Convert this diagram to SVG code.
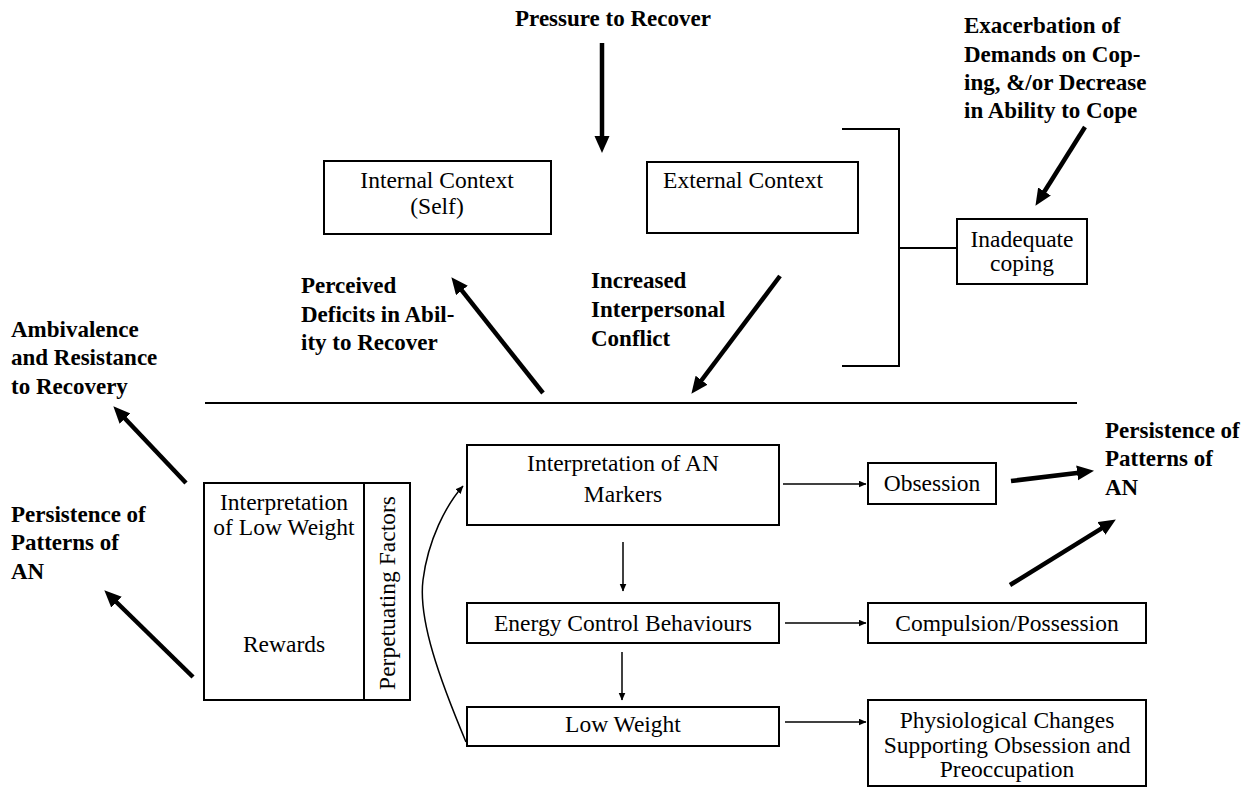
<svg xmlns="http://www.w3.org/2000/svg" width="1256" height="790" viewBox="0 0 1256 790">
  <style>
    .box { fill: #ffffff; stroke: #000000; stroke-width: 2; }
    .txt { font-family: "Liberation Serif", "Times New Roman", serif; font-size: 23.5px; fill: #000000; }
    .mid { text-anchor: middle; }
    .lbl { font-family: "Liberation Serif", "Times New Roman", serif; font-size: 23px; font-weight: bold; fill: #000000; }
    .thick { fill: none; stroke: #000000; stroke-width: 4.5; marker-end: url(#bigHead); }
    .thin { fill: none; stroke: #000000; stroke-width: 1.5; marker-end: url(#smallHead); }
    .rule { fill: none; stroke: #000000; stroke-width: 2; }
  </style>
  <defs>
    <marker id="bigHead" markerUnits="userSpaceOnUse" markerWidth="18" markerHeight="16" refX="6" refY="7.5" orient="auto">
      <path d="M0,0 L17,7.5 L0,15 z" fill="#000000"/>
    </marker>
    <marker id="smallHead" markerUnits="userSpaceOnUse" markerWidth="10" markerHeight="8" refX="7.5" refY="3.5" orient="auto">
      <path d="M0,0 L8,3.5 L0,7 z" fill="#000000"/>
    </marker>
  </defs>

  <rect width="1256" height="790" fill="#ffffff"/>

  <!-- influence labels -->
  <g id="labels">
    <text class="lbl mid" x="613" y="26">Pressure to Recover</text>
    <text class="lbl" x="964" y="33">Exacerbation of</text>
    <text class="lbl" x="964" y="62">Demands on Cop-</text>
    <text class="lbl" x="964" y="90">ing, &amp;/or Decrease</text>
    <text class="lbl" x="964" y="118">in Ability to Cope</text>
    <text class="lbl" x="301" y="293">Perceived</text>
    <text class="lbl" x="301" y="322">Deficits in Abil-</text>
    <text class="lbl" x="301" y="350">ity to Recover</text>
    <text class="lbl" x="591" y="288">Increased</text>
    <text class="lbl" x="591" y="317">Interpersonal</text>
    <text class="lbl" x="591" y="346">Conflict</text>
    <text class="lbl" x="11" y="337">Ambivalence</text>
    <text class="lbl" x="11" y="365">and Resistance</text>
    <text class="lbl" x="11" y="394">to Recovery</text>
    <text class="lbl" x="11" y="522">Persistence of</text>
    <text class="lbl" x="11" y="550">Patterns of</text>
    <text class="lbl" x="11" y="579">AN</text>
    <text class="lbl" x="1105" y="438">Persistence of</text>
    <text class="lbl" x="1105" y="466">Patterns of</text>
    <text class="lbl" x="1105" y="495">AN</text>
  </g>

  <!-- context nodes -->
  <g id="internal-context">
    <rect class="box" x="324" y="161" width="227" height="73"/>
    <text class="txt mid" x="437" y="188">Internal Context</text>
    <text class="txt mid" x="437" y="214">(Self)</text>
  </g>
  <g id="external-context">
    <rect class="box" x="647" y="162" width="211" height="71"/>
    <text class="txt mid" x="743" y="188">External Context</text>
  </g>
  <g id="inadequate-coping">
    <rect class="box" x="957" y="219" width="130" height="65"/>
    <text class="txt mid" x="1022" y="247">Inadequate</text>
    <text class="txt mid" x="1022" y="271">coping</text>
  </g>

  <!-- perpetuating factors -->
  <g id="perpetuating-factors">
    <rect class="box" x="204" y="483" width="206" height="217"/>
    <line class="rule" x1="364" y1="483" x2="364" y2="700"/>
    <text class="txt mid" x="284" y="510">Interpretation</text>
    <text class="txt mid" x="284" y="535">of Low Weight</text>
    <text class="txt mid" x="284" y="652">Rewards</text>
    <text class="txt mid" transform="translate(395,593) rotate(-90)">Perpetuating Factors</text>
  </g>

  <!-- central chain -->
  <g id="interpretation-markers">
    <rect class="box" x="467" y="445" width="312" height="80"/>
    <text class="txt mid" x="623" y="471">Interpretation of AN</text>
    <text class="txt mid" x="623" y="502">Markers</text>
  </g>
  <g id="energy-control">
    <rect class="box" x="467" y="603" width="312" height="40"/>
    <text class="txt mid" x="623" y="631">Energy Control Behaviours</text>
  </g>
  <g id="low-weight">
    <rect class="box" x="467" y="707" width="312" height="39"/>
    <text class="txt mid" x="623" y="732">Low Weight</text>
  </g>

  <!-- outcomes -->
  <g id="obsession">
    <rect class="box" x="868" y="463" width="128" height="41"/>
    <text class="txt mid" x="932" y="491">Obsession</text>
  </g>
  <g id="compulsion">
    <rect class="box" x="868" y="603" width="278" height="40"/>
    <text class="txt mid" x="1007" y="631">Compulsion/Possession</text>
  </g>
  <g id="physiological-changes">
    <rect class="box" x="868" y="700" width="278" height="86"/>
    <text class="txt mid" x="1007" y="728">Physiological Changes</text>
    <text class="txt mid" x="1007" y="753">Supporting Obsession and</text>
    <text class="txt mid" x="1007" y="777">Preoccupation</text>
  </g>

  <!-- connectors -->
  <g id="connectors">
    <!-- bracket joining the contexts to inadequate coping -->
    <polyline class="rule" points="842,129 899,129 899,366 842,366"/>
    <line class="rule" x1="899" y1="248" x2="957" y2="248"/>
    <!-- divider between context and perpetuating cycle -->
    <line class="rule" x1="205" y1="403" x2="1077" y2="403"/>

    <!-- heavy influence arrows -->
    <line class="thick" x1="602" y1="43" x2="602" y2="142"/>
    <line class="thick" x1="1085" y1="127" x2="1041.3" y2="196.5"/>
    <line class="thick" x1="543" y1="393" x2="458.2" y2="285.8"/>
    <line class="thick" x1="780" y1="276" x2="698" y2="385"/>
    <line class="thick" x1="186" y1="483" x2="120.9" y2="414.3"/>
    <line class="thick" x1="193" y1="677" x2="112.2" y2="598"/>
    <line class="thick" x1="1011" y1="481" x2="1083.1" y2="472.2"/>
    <line class="thick" x1="1010" y1="585" x2="1106.5" y2="525.3"/>

    <!-- thin process arrows -->
    <line class="thin" x1="783" y1="484" x2="866" y2="484"/>
    <line class="thin" x1="785" y1="623" x2="866" y2="623"/>
    <line class="thin" x1="785" y1="722" x2="866" y2="722"/>
    <line class="thin" x1="623" y1="542" x2="623" y2="591"/>
    <line class="thin" x1="622" y1="652" x2="622" y2="700"/>
    <path class="thin" d="M466,742 C440,680 418,620 423,580 C428,540 446,505 463,486"/>
  </g>
</svg>
